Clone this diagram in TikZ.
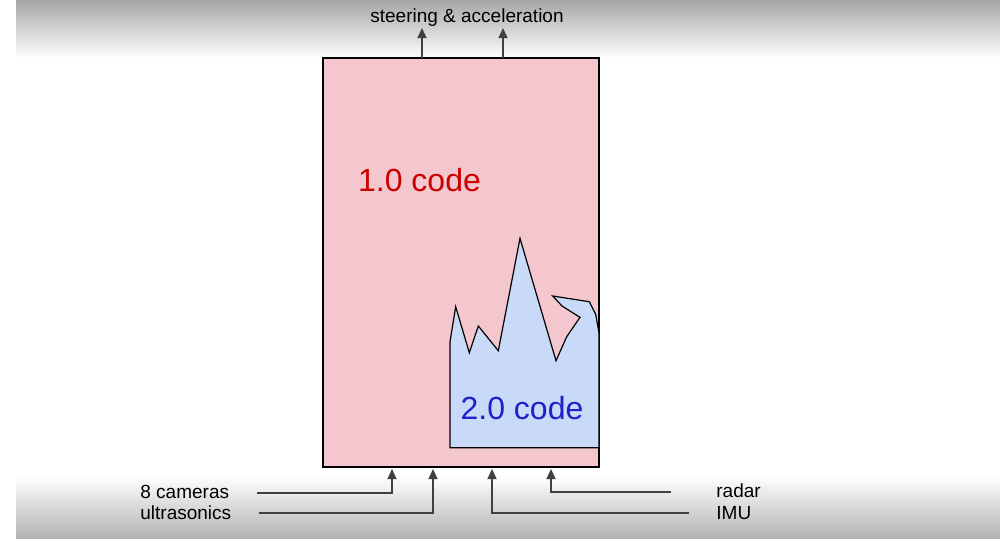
\documentclass[tikz,border=0pt]{standalone}
\usepackage{fontspec}
\setmainfont{Liberation Sans}
\usepackage{xcolor}
\usepackage{tikz}
\usetikzlibrary{arrows.meta, positioning, calc}
\definecolor{oldpink}{HTML}{F3C7CD}
\definecolor{newblue}{HTML}{C9DAF8}
\definecolor{oldred}{HTML}{CC0000}
\definecolor{newink}{HTML}{2020CC}
\definecolor{wire}{HTML}{404040}
\tikzset{
  oldbox/.style  = {rectangle, draw=black, fill=oldpink, line width=0.6pt,
                    inner sep=0pt, outer sep=0pt,
                    minimum width=138pt, minimum height=204.5pt},
  newpatch/.style= {draw=black, fill=newblue, line width=0.6pt, line join=miter},
  biglbl/.style  = {font=\fontsize{16}{18}\selectfont, inner sep=0pt},
  lbl/.style     = {font=\fontsize{9.5}{11}\selectfont, inner sep=0pt},
  arr/.style     = {-{Triangle[length=5pt, width=4.5pt]}, draw=wire,
                    line width=0.7pt},
}

\begin{document}
\begin{tikzpicture}[x=0.5pt, y=-0.5pt]
  % page with shaded top and bottom bands
  \useasboundingbox (0,0) rectangle (1000,538);
  \fill[white] (0,0) rectangle (1000,538);
  \shade[top color=gray!70, bottom color=white] (16,0) rectangle (1000,58);
  \shade[top color=white, bottom color=gray!60] (16,476) rectangle (1000,538);

  % 1.0 block and the 2.0 part growing inside it
  \node[oldbox, anchor=north west] (old) at (323,58) {};
  \draw[newpatch] (450,447.7) -- (450,341.7) -- (455.7,306.7) -- (469.3,352.7)
    -- (478.3,326) -- (498.3,350.7) -- (520,238.3) -- (556,360.7)
    -- (566.7,336.7) -- (580,317.3) -- (562,306) -- (552.7,296)
    -- (589.3,301.7) -- (595.7,314.3) -- (599,333) -- (599,447.7) -- cycle;

  \node[biglbl, text=oldred] (oldlbl) at (419.5,180) {1.0 code};
  \node[biglbl, text=newink] (newlbl) at (522,408) {2.0 code};

  % outputs
  \node[lbl] (out) at (467,18) {steering \& acceleration};
  \coordinate (o1) at (422,28);
  \coordinate (o2) at (503,28);
  \draw[arr] (old.north -| o1) -- (o1);
  \draw[arr] (old.north -| o2) -- (o2);

  % sensor inputs
  \node[lbl, anchor=west] (cam)   at (140,492) {8 cameras};
  \node[lbl, anchor=west] (ultra) at (140,513) {ultrasonics};
  \node[lbl, anchor=west] (radar) at (716,491) {radar};
  \node[lbl, anchor=west] (imu)   at (716,513) {IMU};

  \coordinate (i1) at (392,469);
  \coordinate (i2) at (433,469);
  \coordinate (i3) at (492,469);
  \coordinate (i4) at (551,469);
  \draw[arr] ([xshift=13.5pt,yshift=-0.5pt]cam.east) -| (i1);
  \draw[arr] ([xshift=13.5pt]ultra.east) -| (i2);
  \draw[arr] ([xshift=-22.5pt,yshift=-0.5pt]radar.west) -| (i4);
  \draw[arr] ([xshift=-13.5pt]imu.west)  -| (i3);
\end{tikzpicture}
\end{document}
